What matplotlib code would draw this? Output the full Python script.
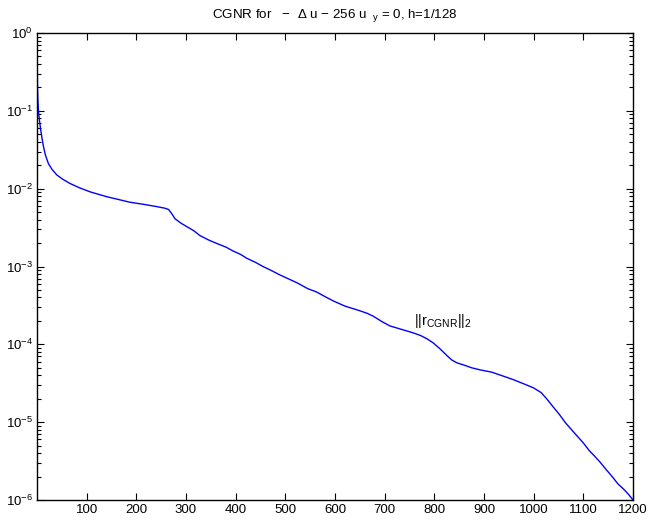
import matplotlib
matplotlib.use("Agg")
import matplotlib.pyplot as plt
from matplotlib.ticker import FixedLocator, NullFormatter

plt.rcParams['font.family'] = ['Liberation Sans', 'DejaVu Sans']
plt.rcParams['mathtext.fontset'] = 'custom'
plt.rcParams['mathtext.rm'] = 'Liberation Sans'
plt.rcParams['mathtext.it'] = 'Liberation Sans'
plt.rcParams['mathtext.bf'] = 'Liberation Sans:bold'

# residual history (iteration, ||r||_2)
iters = [0, 1, 2, 3, 5, 7, 10, 13, 17, 23, 30, 40, 52, 66, 85, 107, 140, 187,
         214, 240, 258, 265, 272, 278, 290, 300, 315, 328, 345, 360, 380, 395,
         410, 422, 440, 455, 470, 489, 505, 523, 545, 563, 580, 597, 620, 650,
         665, 677, 695, 711, 735, 758, 772, 785, 798, 811, 825, 835, 845, 860,
         875, 892, 915, 939, 960, 986, 1000, 1015, 1026, 1040, 1052, 1063,
         1080, 1099, 1112, 1122, 1133, 1145, 1158, 1170, 1180, 1190, 1200]
resid = [1.0, 0.2, 0.13, 0.1, 0.075, 0.06, 0.045, 0.035, 0.027, 0.021, 0.0178,
         0.015, 0.0132, 0.0117, 0.0103, 0.0091, 0.0079, 0.0067, 0.0063,
         0.0059, 0.0056, 0.0054, 0.0047, 0.0041, 0.0036, 0.0033, 0.0029,
         0.0025, 0.0022, 0.0020, 0.00178, 0.00158, 0.00143, 0.00128, 0.00113,
         0.00100, 0.00090, 0.00078, 0.00070, 0.00062, 0.00052, 0.00047,
         0.00041, 0.00036, 0.00031, 0.00027, 0.00025, 0.00023, 0.000195,
         0.000172, 0.000155, 0.000140, 0.000130, 0.000118, 0.000104, 0.000088,
         0.000072, 0.000063, 0.000058, 0.000054, 0.000050, 0.000047, 0.000044,
         0.000039, 0.000035, 0.000030, 0.0000275, 0.000024, 0.000020,
         0.0000155, 0.0000125, 0.0000100, 0.0000075, 0.0000055, 0.0000043,
         0.0000037, 0.0000031, 0.0000025, 0.0000020, 0.0000016, 0.0000014,
         0.0000012, 0.0000010]

xticks = [100, 200, 300, 400, 500, 600, 700, 800, 900, 1000, 1100, 1200]
ydecades = [-6, -5, -4, -3, -2, -1, 0]

fig = plt.figure(figsize=(6.51, 5.24), dpi=100)
ax = fig.add_axes([0.0568, 0.0458, 0.9156, 0.8912])

ax.semilogy(iters, resid, color=(0, 0, 1), lw=1.0)

ax.set_xlim(0, 1200)
ax.set_ylim(1e-6, 1e0)
ax.xaxis.set_major_locator(FixedLocator(xticks))
ax.yaxis.set_major_locator(FixedLocator([10.0 ** d for d in ydecades]))
ax.yaxis.set_major_formatter(
    matplotlib.ticker.FixedFormatter([r'$10^{%d}$' % d for d in ydecades]))
minor = [m * 10.0 ** d for d in ydecades[:-1] for m in range(2, 10)]
ax.yaxis.set_minor_locator(FixedLocator(minor))
ax.yaxis.set_minor_formatter(NullFormatter())
ax.tick_params(which='both', direction='in', top=True, right=True,
               labelsize=9.5, width=0.8)
ax.tick_params(which='major', length=5, pad=3)
ax.tick_params(which='minor', length=3)
for s in ax.spines.values():
    s.set_linewidth(1.0)

ax.set_title(r'CGNR for   $-$  $\Delta$ u $-$ 256 u $_{\ y}$ = 0, h=1/128',
             fontsize=9.6, pad=11)
ax.text(759, 2.0e-4, r'$||r_{\mathrm{CGNR}}||_2$', fontsize=10.5,
        ha='left', va='center')

fig.savefig('out.png', dpi=100)
